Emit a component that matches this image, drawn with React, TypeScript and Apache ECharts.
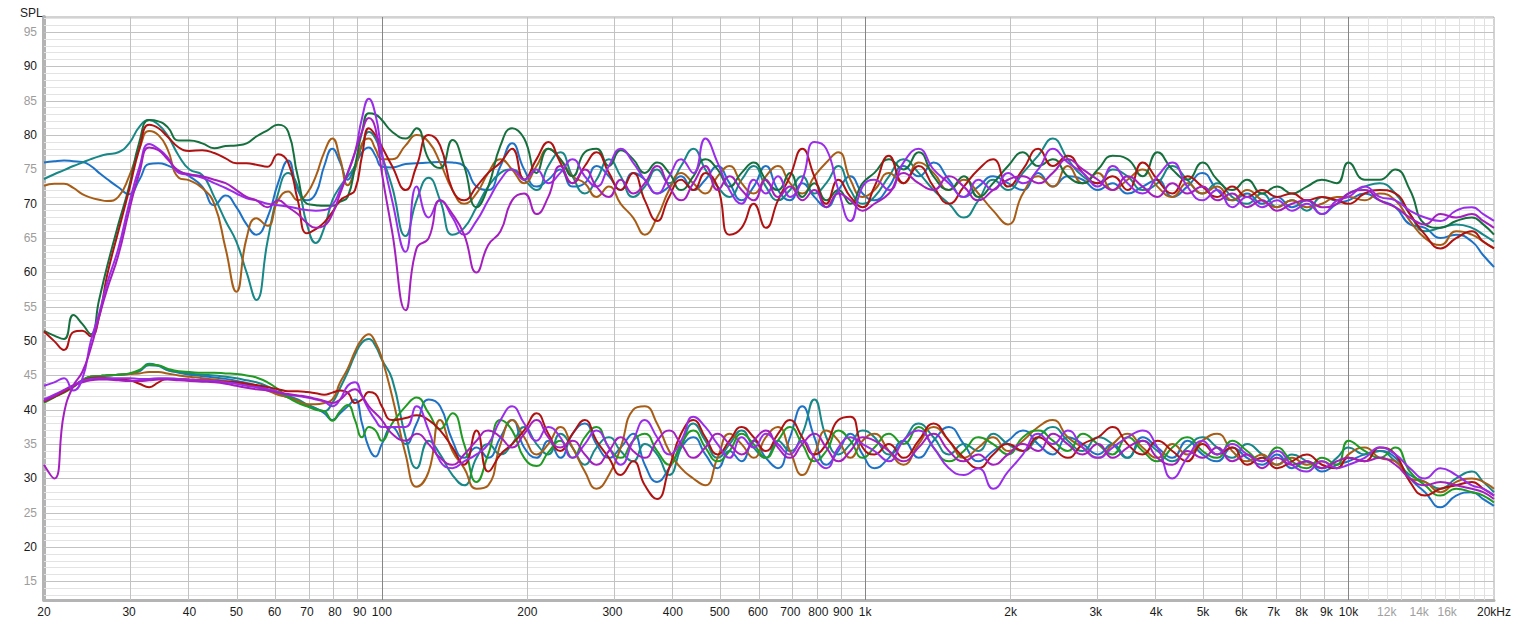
import React, { useEffect, useRef } from 'react';
import * as echarts from 'echarts';

// Frequency grid (Hz) shared by all curves
const FREQ = [
  20, 21, 22, 23, 24, 25, 26, 27, 28.5, 30, 31.5, 33, 34.5, 36, 38, 40, 42.5, 45, 47.5, 50,
  52.5, 55, 58, 61, 64, 67, 70, 73, 76, 79, 82, 85, 88, 91, 94, 97, 100,
  105, 112, 118, 125, 132, 140, 148, 157, 166, 176, 186, 197, 209, 221, 234, 248, 263, 278, 295, 312,
  331, 350, 371, 393, 416, 441, 467, 495, 524, 555, 588, 623, 660, 699, 741, 785, 831, 880, 932, 988,
  1045, 1120, 1200, 1290, 1385, 1490, 1600, 1715, 1840, 1975, 2120, 2280, 2445, 2625, 2820, 3030, 3250, 3490, 3750, 4025,
  4320, 4640, 4985, 5350, 5745, 6170, 6625, 7115, 7640, 8200, 8810, 9460,
  10000, 10800, 11600, 12500, 13400, 14400, 15500, 16700, 18000, 19000, 20000,
];

// Upper group (SPL)
const U_BLUE = [
  76.0, 76.2, 76.3, 76.2, 76.1, 75.5, 74.5, 73.6, 72.4, 71.4, 73.5, 75.8, 75.9, 75.6, 74.8, 74.0, 72.5, 69.8, 71.2, 69.5,
  67.0, 65.5, 68.0, 73.0, 76.3, 72.0, 70.5, 71.5, 75.5, 78.0, 76.0, 73.5, 75.5, 77.5, 78.2, 77.0, 75.4,
  75.3, 75.8, 75.9, 76.0, 76.1, 76.0, 75.5, 72.5, 72.0, 75.5, 78.8, 75.0, 72.5, 73.5, 75.0, 72.5, 73.0, 75.5, 74.0, 72.0,
  74.5, 73.5, 71.5, 72.5, 74.0, 72.0, 73.5, 75.5, 73.0, 70.5, 72.5, 75.5, 72.0, 70.5, 73.0, 71.0, 69.5, 72.0, 74.0, 71.5,
  70.5, 72.5, 75.5, 74.0, 76.0, 73.5, 71.0, 72.5, 74.0, 73.0, 72.0, 74.5, 72.5, 74.0, 73.5, 72.0, 73.0, 71.5, 72.5, 73.5,
  71.0, 72.5, 74.5, 72.0, 70.5, 71.5, 70.0, 71.0, 69.5, 70.5, 68.5, 70.0,
  70.5, 71.5, 70.5, 69.5, 67.0, 66.5, 65.0, 65.5, 64.5, 62.5, 60.8,
];
const U_TEAL = [
  73.6, 74.3, 74.9, 75.5, 76.0, 76.5, 76.9, 77.2, 77.5, 78.8, 81.2, 82.2, 81.5, 80.0, 77.0, 75.0, 74.2, 71.0, 67.5, 64.5,
  60.0, 56.0, 64.5, 71.5, 74.5, 72.5, 67.0, 64.3, 66.5, 70.5, 72.5, 74.0, 75.5, 78.5, 80.5, 79.5, 77.0,
  72.5, 65.3, 70.5, 73.8, 70.5, 65.5, 66.5, 69.5, 72.5, 74.5, 75.0, 73.5, 72.0, 75.5, 77.5, 74.0, 71.5, 73.5, 76.5, 74.0,
  71.0, 72.5, 75.0, 73.0, 75.5, 78.0, 75.0, 72.5, 71.0, 73.5, 75.5, 72.5, 70.5, 72.0, 74.0, 71.5, 73.0, 75.5, 72.0, 70.0,
  71.0, 74.0, 76.5, 74.5, 72.0, 70.0, 68.0, 70.5, 73.5, 72.0, 74.5, 77.0, 79.5, 76.5, 74.0, 73.0, 75.0, 74.0, 72.0, 73.0,
  75.5, 73.5, 71.5, 73.0, 71.0, 70.0, 71.5, 69.5, 70.5, 69.0, 71.0, 70.5,
  71.5, 72.5, 73.0, 71.5, 68.5, 66.0, 66.5, 67.0, 66.5, 65.5, 64.5,
];
const U_BROWN = [
  72.6, 72.9, 72.9, 72.3, 71.4, 70.9, 70.6, 70.4, 71.0, 74.0, 78.0, 80.6, 80.0, 78.0, 73.8, 73.4, 72.3, 70.0, 63.5, 57.2,
  65.0, 67.9, 66.8, 70.5, 71.8, 70.5, 71.5, 74.0, 77.5, 79.5, 76.5, 72.7, 75.0, 78.8, 79.5, 78.0, 76.5,
  76.5, 78.5, 80.0, 79.0, 76.0, 72.0, 70.0, 71.5, 74.5, 76.5, 75.0, 73.0, 75.5, 78.0, 76.5, 74.0, 73.0, 71.0, 72.5, 70.0,
  68.0, 65.5, 68.0, 72.0, 74.5, 73.0, 71.5, 74.0, 75.5, 73.0, 71.5, 74.0, 75.5, 73.0, 71.5, 74.0, 76.0, 77.5, 73.5, 71.0,
  72.0, 74.5, 73.0, 76.0, 74.5, 72.0, 73.5, 71.5, 69.0, 67.0, 71.5, 74.0, 72.5, 75.5, 73.0, 74.5, 72.0, 73.5, 75.0, 72.5,
  71.0, 73.0, 71.5, 72.5, 70.5, 72.0, 70.5, 69.5, 70.5, 69.5, 70.0, 71.0,
  71.0, 70.5, 71.5, 70.5, 67.5, 65.0, 64.0, 66.0, 65.5, 64.5, 63.5,
];
const U_DKGREEN = [
  51.5, 50.8, 50.3, 53.8, 52.5, 51.0, 56.0, 60.8, 67.0, 72.5, 79.0, 82.2, 82.0, 81.2, 79.2, 79.2, 78.8, 78.1, 78.4, 78.5,
  78.8, 79.8, 80.7, 81.5, 80.5, 74.0, 70.0, 69.8, 69.7, 69.7, 70.3, 71.0, 75.5, 80.5, 83.2, 83.0, 82.2,
  80.5, 79.5, 81.0, 76.5, 75.2, 79.3, 75.5, 69.5, 72.5, 78.5, 81.0, 79.5, 74.5, 78.0, 76.5, 74.0, 77.5, 78.0, 75.5, 77.8,
  76.5, 74.5, 76.0, 74.5, 72.0, 74.0, 76.5, 75.0, 72.5, 74.5, 76.0, 73.5, 72.0, 74.5, 71.0, 73.0, 70.5, 72.0, 70.0, 73.0,
  74.5, 76.5, 75.0, 77.5, 74.0, 72.0, 74.0, 71.0, 73.0, 75.5, 77.5, 75.5, 76.5, 74.0, 73.0, 75.0, 77.0, 76.5, 74.0, 77.5,
  75.0, 73.5, 76.0, 73.5, 72.0, 73.5, 71.5, 72.5, 71.5, 72.5, 73.5, 73.0,
  76.0, 73.5, 73.5, 75.0, 72.0, 67.0, 66.5, 67.5, 68.0, 67.0, 65.5,
];
const U_RED = [
  51.4, 50.0, 48.7, 51.3, 51.5, 50.7, 53.5, 59.5, 66.0, 72.0, 78.0, 81.5, 81.0, 79.8, 78.2, 77.7, 77.8, 77.4, 76.6, 75.9,
  75.9, 75.7, 75.4, 77.2, 76.0, 70.5, 65.7, 66.3, 67.3, 68.8, 70.5, 71.2, 72.0, 77.0, 81.0, 80.0, 78.3,
  75.5, 72.0, 75.5, 80.0, 78.5, 72.0, 70.5, 72.5, 74.5, 76.0, 78.0, 73.5, 76.5, 79.0, 76.0, 73.0, 75.5, 77.5, 74.5, 72.0,
  74.5, 70.5, 67.5, 71.0, 73.5, 72.0, 74.5, 72.5, 65.5, 66.5, 70.0, 66.5, 70.5, 74.0, 78.0, 74.0, 70.0, 73.5, 71.0, 69.5,
  72.5, 77.0, 73.0, 75.5, 72.5, 70.0, 72.5, 75.0, 76.5, 72.5, 75.0, 78.0, 75.5, 77.0, 74.5, 73.0, 74.0, 72.0, 76.0, 73.5,
  71.5, 74.0, 72.5, 71.0, 72.5, 71.0, 72.0, 71.0, 71.5, 70.5, 71.0, 70.5,
  70.0, 71.5, 72.0, 71.5, 68.5, 65.5, 63.5, 65.0, 66.0, 64.5, 63.5,
];
const U_VIOLET = [
  43.5, 44.0, 44.6, 42.8, 44.5, 50.0, 54.0, 58.4, 63.5, 70.0, 75.3, 78.7, 78.0, 76.8, 74.5, 74.2, 73.8, 73.0, 72.3, 71.5,
  70.8, 70.5, 70.0, 69.8, 69.6, 69.3, 69.1, 69.0, 69.1, 69.8, 72.0, 74.5, 77.5, 82.5, 85.3, 83.0, 77.5,
  70.5, 63.0, 72.5, 68.0, 70.5, 68.0, 65.5, 67.5, 70.5, 73.5, 75.0, 73.5, 75.0, 73.0, 74.5, 76.5, 74.0, 72.5, 75.5, 78.0,
  76.0, 73.5, 71.5, 74.0, 76.5, 74.5, 79.5, 76.0, 72.0, 70.0, 73.5, 71.5, 74.0, 71.0, 73.5, 79.0, 78.0, 72.0, 67.5, 72.5,
  73.5, 72.0, 76.0, 78.0, 75.0, 73.0, 71.0, 73.5, 72.0, 74.5, 73.0, 75.0, 78.0, 76.0, 74.5, 72.5, 75.5, 73.0, 71.5, 74.0,
  76.0, 72.5, 70.5, 72.0, 69.5, 71.0, 69.5, 70.5, 69.0, 70.0, 68.5, 70.5,
  71.0, 72.5, 71.0, 70.5, 69.0, 68.0, 67.5, 69.0, 69.5, 68.5, 67.5,
];
const U_MAGENTA = [
  32.0, 30.0, 39.5, 43.5, 45.5, 49.0, 53.5, 57.5, 62.5, 69.0, 74.5, 78.2, 77.8, 76.5, 74.8, 74.3, 74.0, 73.5, 73.0, 72.0,
  71.0, 70.5, 69.5, 70.5, 69.5, 68.5, 67.2, 66.5, 66.8, 68.5, 71.5, 74.5, 77.5, 80.5, 82.5, 81.0, 74.5,
  66.0, 54.5, 63.5, 65.0, 70.5, 68.5, 65.5, 60.0, 64.0, 66.0, 70.5, 71.5, 68.5, 71.0, 75.5, 73.0, 75.0, 72.5, 71.0, 73.5,
  71.5, 73.0, 75.5, 72.5, 70.5, 73.0, 75.5, 72.0, 74.0, 72.0, 70.5, 73.5, 71.0, 72.5, 70.5, 72.0, 69.5, 71.5, 70.5, 69.0,
  70.0, 71.5, 74.5, 73.0, 72.0, 74.0, 72.5, 70.5, 72.0, 73.5, 74.0, 73.0, 74.5, 76.5, 75.0, 73.5, 72.0, 74.0, 72.5, 71.0,
  73.0, 71.5, 72.5, 70.5, 71.5, 69.5, 70.5, 69.0, 70.0, 70.5, 69.5, 70.0,
  71.5, 72.0, 70.5, 69.5, 68.0, 67.0, 68.5, 68.0, 68.5, 67.5, 66.5,
];

// Lower group
const L_GREEN = [
  41.0, 41.8, 42.5, 43.3, 44.3, 44.8, 44.9, 45.0, 45.1, 45.3, 45.8, 46.6, 46.5, 46.0, 45.6, 45.5, 45.4, 45.4, 45.3, 45.2,
  45.0, 44.7, 44.0, 43.0, 41.8, 41.0, 40.5, 40.0, 39.8, 38.4, 39.8, 40.7, 38.5, 36.0, 37.5, 37.0, 35.5,
  38.0, 40.5, 41.8, 39.5, 37.2, 39.5, 35.0, 29.5, 33.5, 38.5, 37.0, 33.0, 31.8, 33.8, 35.5, 33.0, 36.0, 37.5, 34.5, 33.0,
  35.5, 36.5, 34.0, 32.0, 35.0, 37.0, 34.5, 32.5, 34.0, 36.5, 35.0, 33.0, 35.5, 37.5, 35.0, 32.5, 34.0, 37.0, 35.5, 33.0,
  34.5, 36.5, 35.0, 37.5, 34.5, 32.5, 34.0, 36.0, 35.0, 33.5, 36.0, 37.0, 35.5, 34.0, 36.5, 35.0, 33.5, 36.0, 34.0, 32.5,
  34.5, 36.0, 34.0, 33.0, 35.5, 34.0, 32.5, 34.5, 32.5, 31.5, 33.0, 32.0,
  35.5, 34.0, 33.0, 34.5, 31.0, 29.0, 27.5, 28.5, 28.0, 27.5, 26.5,
];
const L_TEAL = [
  41.2, 41.9, 42.6, 43.4, 44.3, 44.8, 44.9, 45.0, 45.1, 45.2, 45.7, 46.7, 46.4, 45.8, 45.5, 45.3, 45.1, 45.0, 44.8, 44.6,
  44.3, 44.0, 43.4, 42.6, 42.0, 41.5, 40.8, 40.2, 39.8, 41.0, 43.2, 45.5, 48.0, 49.8, 50.3, 49.3, 47.3,
  44.5, 36.0, 31.5, 35.5, 33.5, 30.5, 29.0, 33.0, 35.0, 33.5, 35.0, 37.5, 35.0, 33.5, 36.5, 34.5, 32.0, 34.5, 36.0, 34.0,
  32.5, 35.0, 33.5, 30.5, 34.5, 38.0, 35.5, 33.0, 35.0, 37.0, 34.5, 33.0, 35.5, 34.0, 36.5, 41.5, 36.0, 33.5, 35.0, 37.0,
  36.0, 33.5, 35.5, 38.0, 36.0, 33.5, 35.0, 34.0, 36.5, 35.0, 34.0, 36.0, 37.5, 35.5, 34.0, 36.0, 35.0, 33.0, 35.5, 34.0,
  32.5, 34.5, 36.0, 34.5, 33.0, 35.0, 33.5, 32.0, 33.5, 32.5, 31.5, 33.0,
  34.5, 33.5, 34.0, 32.5, 30.5, 29.5, 28.5, 30.0, 31.0, 29.5, 28.0,
];
const L_BLUE = [
  41.3, 42.0, 42.7, 43.4, 44.3, 44.8, 44.9, 45.0, 45.1, 45.2, 45.6, 46.5, 46.4, 45.8, 45.4, 45.1, 44.9, 44.7, 44.5, 44.2,
  43.9, 43.5, 43.0, 42.3, 41.8, 41.3, 40.7, 40.2, 39.5, 38.5, 39.5, 40.5, 41.5, 38.0, 34.5, 33.2, 35.0,
  37.5, 35.0, 38.0, 41.5, 40.5, 35.5, 33.0, 34.5, 33.0, 36.0, 38.5, 34.5, 33.0, 35.5, 33.0, 36.5, 38.0, 35.0, 33.0, 34.5,
  36.5, 32.0, 29.5, 31.5, 34.5, 36.0, 33.5, 31.5, 34.0, 32.5, 35.5, 33.0, 31.5, 36.0, 40.5, 36.0, 32.0, 34.0, 36.5, 33.5,
  31.5, 33.0, 35.5, 33.0, 35.5, 37.5, 35.0, 32.5, 34.0, 35.5, 37.0, 35.0, 33.5, 36.0, 35.0, 33.5, 35.0, 33.0, 36.0, 34.5,
  33.0, 35.5, 33.5, 32.5, 34.5, 33.0, 32.0, 33.5, 31.5, 32.5, 31.0, 32.0,
  32.5, 33.5, 34.0, 33.0, 30.0, 28.0, 25.8, 27.5, 28.0, 27.0, 26.0,
];
const L_BROWN = [
  41.1, 41.9, 42.6, 43.4, 44.3, 44.8, 44.9, 45.0, 45.1, 45.2, 45.3, 45.5, 45.5, 45.3, 45.0, 44.8, 44.6, 44.4, 44.2, 44.0,
  43.7, 43.3, 42.8, 42.2, 41.8, 41.3, 40.8, 40.8, 41.0, 41.5, 44.0, 46.0, 48.5, 50.3, 51.0, 49.8, 47.5,
  42.0, 33.5, 28.8, 31.0, 38.5, 34.0, 31.5, 28.5, 29.0, 35.0, 38.5, 36.0, 33.5, 35.0, 37.5, 34.5, 31.0, 28.5, 30.5, 34.5,
  40.0, 40.5, 38.0, 34.0, 31.5, 30.0, 29.0, 33.0, 36.5, 35.0, 33.0, 36.0, 37.5, 34.0, 30.5, 33.5, 37.0, 35.5, 33.0, 35.5,
  36.5, 34.0, 32.0, 35.0, 37.5, 35.5, 33.0, 34.5, 36.0, 34.0, 35.5, 37.5, 38.5, 36.0, 34.5, 33.0, 35.0, 36.5, 34.5, 33.0,
  35.0, 33.5, 35.5, 36.5, 34.0, 32.5, 33.5, 32.0, 33.0, 32.0, 32.5, 31.5,
  33.5, 34.5, 33.0, 32.5, 30.0, 29.5, 28.0, 29.5, 30.0, 29.5, 28.5,
];
const L_RED = [
  41.2, 41.9, 42.6, 43.4, 44.2, 44.6, 44.7, 44.6, 44.4, 44.3, 43.8, 43.3, 44.0, 44.5, 44.5, 44.4, 44.3, 44.2, 44.1, 44.0,
  43.8, 43.6, 43.3, 43.0, 42.7, 42.7, 42.6, 42.4, 42.2, 42.5, 42.8, 42.5, 41.0, 41.5, 42.6, 42.3, 40.5,
  38.5, 38.8, 39.2, 38.5, 37.0, 34.5, 32.0, 37.0, 31.0, 33.5, 35.0, 37.0, 39.5, 36.5, 34.0, 36.5, 38.5, 35.5, 33.0, 30.5,
  32.5, 29.0, 27.0, 31.5, 36.5, 38.5, 36.0, 33.5, 35.5, 37.5, 36.0, 34.0, 36.5, 38.5, 36.0, 33.5, 35.0, 38.5, 39.0, 34.5,
  33.5, 35.0, 33.0, 35.5, 38.0, 35.5, 33.0, 31.5, 33.5, 35.0, 34.0, 36.0, 34.5, 33.0, 35.0, 36.0, 37.5, 35.0, 33.5, 35.5,
  34.0, 32.5, 35.0, 33.5, 34.5, 32.0, 33.0, 31.5, 32.5, 33.5, 32.0, 31.5,
  33.0, 32.5, 34.5, 33.5, 29.5, 27.5, 28.5, 29.0, 29.5, 28.5, 27.5,
];
const L_VIOLET = [
  41.5, 42.2, 42.9, 43.6, 44.2, 44.5, 44.6, 44.6, 44.6, 44.6, 44.5, 44.5, 44.6, 44.6, 44.5, 44.4, 44.3, 44.2, 44.0, 43.8,
  43.5, 43.3, 43.0, 42.6, 42.2, 42.0, 41.8, 41.5, 41.2, 40.5, 41.5, 43.5, 44.0, 42.0, 40.0, 38.5, 37.5,
  37.5, 37.5, 40.5, 37.0, 32.5, 31.5, 32.5, 33.5, 35.0, 38.5, 40.5, 38.0, 35.5, 37.5, 36.0, 33.0, 35.0, 37.0, 34.5, 32.0,
  35.5, 38.5, 36.0, 33.5, 35.5, 39.0, 37.5, 35.0, 33.0, 36.0, 34.5, 36.5, 35.0, 33.5, 35.5, 33.0, 31.5, 34.5, 36.0, 35.0,
  34.0, 32.5, 35.5, 37.0, 34.5, 31.5, 30.5, 31.5, 28.5, 31.0, 33.5, 36.5, 35.0, 37.0, 34.5, 33.0, 34.5, 36.0, 37.0, 34.5,
  30.0, 33.0, 35.5, 33.5, 35.0, 33.5, 32.5, 34.0, 32.0, 31.0, 32.5, 31.5,
  32.0, 33.0, 34.5, 33.5, 31.5, 30.0, 31.5, 30.5, 29.0, 28.5, 27.5,
];
const L_MAGENTA = [
  41.3, 42.0, 42.8, 43.5, 44.0, 44.3, 44.4, 44.4, 44.3, 44.2, 44.2, 44.3, 44.4, 44.4, 44.3, 44.2, 44.1, 44.0, 43.8, 43.5,
  43.2, 43.0, 42.8, 42.5, 42.3, 42.1, 41.9, 41.6, 41.3, 41.0, 41.5, 42.5, 43.0, 42.0, 40.5, 39.5, 38.5,
  36.5, 35.5, 36.5, 35.0, 33.0, 32.0, 33.5, 35.5, 37.0, 36.0, 34.5, 36.5, 38.5, 36.0, 34.5, 35.5, 33.5, 32.0, 34.0, 36.0,
  34.0, 33.0, 35.5, 37.0, 35.0, 33.0, 34.5, 36.5, 35.0, 33.5, 35.5, 37.0, 34.5, 33.0, 35.0, 36.5, 34.5, 32.5, 34.0, 36.0,
  35.5, 34.0, 32.5, 34.5, 36.5, 34.0, 32.5, 33.5, 32.0, 33.5, 35.0, 34.0, 36.5, 35.0, 33.5, 35.0, 33.0, 34.5, 35.5, 33.0,
  32.0, 34.0, 33.0, 34.5, 32.5, 33.5, 31.5, 33.0, 32.0, 32.5, 31.5, 32.5,
  33.0, 32.5, 33.0, 32.0, 30.0, 29.0, 29.5, 29.0, 28.5, 28.0, 27.0,
];

// Axis ticks
const Y_TICKS = [15, 20, 25, 30, 35, 40, 45, 50, 55, 60, 65, 70, 75, 80, 85, 90, 95];
const X_TICKS = [20, 30, 40, 50, 60, 70, 80, 90, 100, 200, 300, 400, 500, 600, 700, 800, 900,
  1000, 2000, 3000, 4000, 5000, 6000, 7000, 8000, 9000, 10000, 12000, 14000, 16000, 20000];
const X_TICK_LABELS = ['20', '30', '40', '50', '60', '70', '80', '90', '100', '200', '300', '400', '500', '600', '700', '800', '900',
  '1k', '2k', '3k', '4k', '5k', '6k', '7k', '8k', '9k', '10k', '12k', '14k', '16k', '20kHz'];
const X_GRAY_LABELS = ['12k', '14k', '16k'];
const X_GRID_MINOR = [30, 40, 50, 60, 70, 80, 90, 200, 300, 400, 500, 600, 700, 800, 900,
  2000, 3000, 4000, 5000, 6000, 7000, 8000, 9000];
const X_GRID_FINE = [11000, 12000, 13000, 14000, 15000, 16000, 17000, 18000, 19000];
const X_GRID_DECADE = [100, 1000, 10000];
const Y_MIN = 12.3;
const Y_MAX = 97.2;

const C = {
  blue: '#1e72c6',
  teal: '#178787',
  brown: '#a85d16',
  dkgreen: '#15703e',
  red: '#b01212',
  violet: '#9a2ee8',
  magenta: '#a41fbe',
  green: '#1f9a22',
};

const CURVES = [
  { name: 'L blue', data: L_BLUE, color: C.blue },
  { name: 'L teal', data: L_TEAL, color: C.teal },
  { name: 'L brown', data: L_BROWN, color: C.brown },
  { name: 'L green', data: L_GREEN, color: C.green },
  { name: 'L red', data: L_RED, color: C.red },
  { name: 'L violet', data: L_VIOLET, color: C.violet },
  { name: 'L magenta', data: L_MAGENTA, color: C.magenta },
  { name: 'U blue', data: U_BLUE, color: C.blue },
  { name: 'U teal', data: U_TEAL, color: C.teal },
  { name: 'U brown', data: U_BROWN, color: C.brown },
  { name: 'U dkgreen', data: U_DKGREEN, color: C.dkgreen },
  { name: 'U red', data: U_RED, color: C.red },
  { name: 'U violet', data: U_VIOLET, color: C.violet },
  { name: 'U magenta', data: U_MAGENTA, color: C.magenta },
];

const lg = (v: number) => Math.log10(v);
const FONT = "'Liberation Sans', Arial, sans-serif";

function xLabelFor(v: number): string {
  for (let i = 0; i < X_TICKS.length; i++) {
    if (Math.abs(lg(X_TICKS[i]) - v) < 1e-6) return X_TICK_LABELS[i];
  }
  return '';
}

function buildOption() {
  const gridLines: any[] = [];
  for (let v = 13; v <= 97; v++) {
    if (v % 5 === 0) continue;
    gridLines.push({ yAxis: v, lineStyle: { color: '#e3e3e3', width: 1, type: 'solid' } });
  }
  X_GRID_FINE.forEach((f) => gridLines.push({ xAxis: lg(f), lineStyle: { color: '#e0e0e0', width: 1, type: 'solid' } }));
  Y_TICKS.forEach((v) => gridLines.push({ yAxis: v, lineStyle: { color: '#c2c2c2', width: 1, type: 'solid' } }));
  X_GRID_MINOR.forEach((f) => gridLines.push({ xAxis: lg(f), lineStyle: { color: '#c2c2c2', width: 1, type: 'solid' } }));
  X_GRID_DECADE.forEach((f) => gridLines.push({ xAxis: lg(f), lineStyle: { color: '#858585', width: 1, type: 'solid' } }));

  const gridSeries = {
    type: 'line',
    name: 'grid',
    data: [],
    silent: true,
    z: 1,
    markLine: {
      silent: true,
      symbol: ['none', 'none'],
      animation: false,
      z: 1,
      label: { show: false },
      emphasis: { disabled: true },
      lineStyle: { type: 'solid' },
      data: gridLines,
    },
  };

  const curveSeries = CURVES.map((c) => ({
    type: 'line',
    name: c.name,
    data: FREQ.map((f, i) => [lg(f), c.data[i]]),
    showSymbol: false,
    symbol: 'none',
    smooth: 0.5,
    silent: true,
    z: 3,
    lineStyle: { width: 2, color: c.color },
    itemStyle: { color: c.color },
  }));

  return {
    animation: false,
    backgroundColor: '#ffffff',
    title: {
      text: 'SPL',
      left: 15,
      top: 2,
      textStyle: { fontSize: 12, fontWeight: 'normal', color: '#222', fontFamily: FONT },
    },
    grid: {
      left: 44,
      right: 22,
      top: 17,
      bottom: 24,
      show: true,
      borderColor: '#a6a6a6',
      borderWidth: 1,
      backgroundColor: '#ffffff',
    },
    xAxis: {
      type: 'value',
      min: lg(20),
      max: lg(20000),
      axisLine: { show: true, onZero: false, lineStyle: { color: '#b4b4b4', width: 3 } },
      axisTick: { show: false },
      splitLine: { show: false },
      axisLabel: {
        customValues: X_TICKS.map(lg),
        formatter: (v: number) => xLabelFor(Number(v)),
        color: (v: any) => (X_GRAY_LABELS.includes(xLabelFor(Number(v))) ? '#a0a0a0' : '#1a1a1a'),
        fontSize: 12,
        fontFamily: FONT,
        margin: 6,
      },
    },
    yAxis: {
      type: 'value',
      min: Y_MIN,
      max: Y_MAX,
      axisLine: { show: true, onZero: false, lineStyle: { color: '#b4b4b4', width: 4 } },
      axisTick: { show: false },
      splitLine: { show: false },
      axisLabel: {
        customValues: Y_TICKS,
        color: (v: any) => (Number(v) % 10 === 0 ? '#1a1a1a' : '#9c9c9c'),
        fontSize: 12,
        fontFamily: FONT,
        margin: 7,
      },
    },
    series: [gridSeries, ...curveSeries],
  };
}

export default function App() {
  const ref = useRef<HTMLDivElement>(null);
  useEffect(() => {
    if (!ref.current) return;
    const chart = echarts.init(ref.current, undefined, { renderer: 'svg' });
    chart.setOption(buildOption() as any);
    return () => chart.dispose();
  }, []);
  return (
    <div
      ref={ref}
      style={{ position: 'fixed', left: 0, top: 0, width: 1516, height: 624, background: '#fff' }}
    />
  );
}
